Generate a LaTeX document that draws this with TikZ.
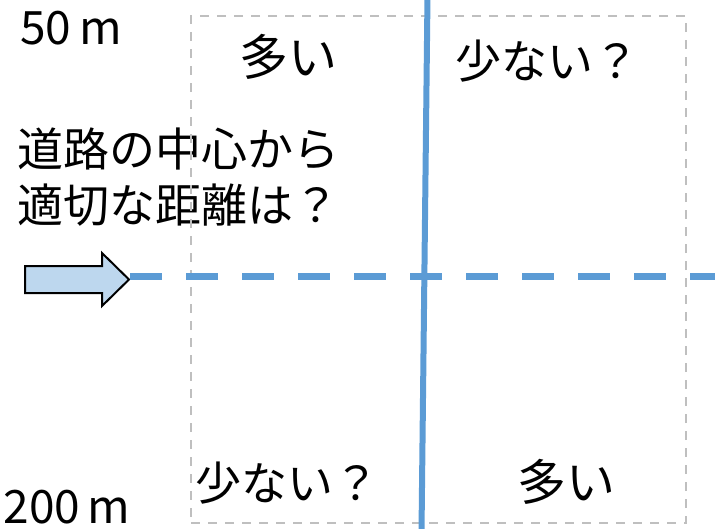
\documentclass[tikz,border=0pt]{standalone}
\usepackage{fontspec}
\setmainfont{Noto Sans CJK JP}
\definecolor{lineblue}{HTML}{5B9BD5}
\definecolor{arrowfill}{HTML}{BDD7EE}
\definecolor{boxgray}{HTML}{BFBFBF}
\tikzset{
  label/.style={inner sep=0pt, font=\fontsize{46}{56}\selectfont},
  big label/.style={inner sep=0pt, font=\fontsize{49}{56}\selectfont},
  grid box/.style={draw=boxgray, line width=2.8pt, dash pattern=on 9pt off 8pt},
  axis solid/.style={draw=lineblue, line width=6pt},
  axis dashed/.style={draw=lineblue, line width=7pt, dash pattern=on 32pt off 24pt},
  block arrow/.style={draw=black, line width=2pt, fill=arrowfill, line join=miter}
}
\begin{document}
\begin{tikzpicture}[x=1pt,y=-1pt]
\useasboundingbox (0,0) rectangle (715,528);
\clip (0,0) rectangle (715,528);
% texts
\node[label] (top) at (71,28) {50\,m};
\node[label] (bot) at (67,507) {200\,m};
\node[big label] (tl) at (288,57) {多い};
\node[label] (tr) at (547,61) {少ない？};
\node[label] (bl) at (287,483) {少ない？};
\node[big label] (br) at (566,482) {多い};
\node[label, anchor=west, align=left] (q) at (17,177) {道路の中心から\\適切な距離は？};
% box
\node[grid box, inner sep=0pt, minimum width=495pt, minimum height=507pt] (box) at (438.5,269.5) {};
% arrow
\coordinate (a1) at (25,266);
\coordinate (a2) at (102,266);
\coordinate (a3) at (102,253);
\coordinate (tip) at (129,279.5);
\coordinate (a5) at (102,306);
\coordinate (a6) at (102,293);
\coordinate (a7) at (25,293);
\draw[block arrow] (a1) -- (a2) -- (a3) -- (tip) -- (a5) -- (a6) -- (a7) -- cycle;
% axes
\coordinate (vtop) at (427.5,-4);
\coordinate (vbot) at (421.5,532);
\coordinate (hl) at (130,276.5);
\coordinate (hr) at (720,276.5);
\draw[axis dashed] (hl) -- (hr);
\draw[axis solid] (vtop) -- (vbot);
\end{tikzpicture}
\end{document}
